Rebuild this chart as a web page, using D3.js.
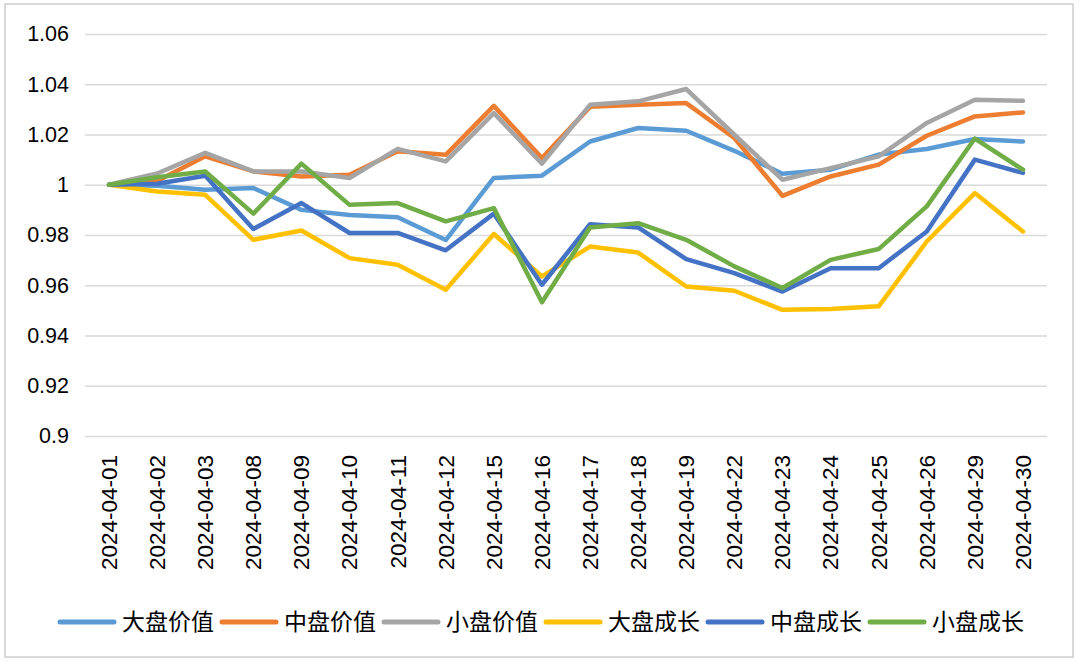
<!DOCTYPE html>
<html>
<head>
<meta charset="utf-8">
<script src="https://cdn.jsdelivr.net/npm/d3@7"></script>
<style>
  html, body { margin: 0; padding: 0; background: #fff; }
  svg { display: block; }
</style>
</head>
<body>
<div id="chart"></div>
<script>
const dates = ['2024-04-01', '2024-04-02', '2024-04-03', '2024-04-08', '2024-04-09', '2024-04-10', '2024-04-11',
  '2024-04-12', '2024-04-15', '2024-04-16', '2024-04-17', '2024-04-18', '2024-04-19', '2024-04-22',
  '2024-04-23', '2024-04-24', '2024-04-25', '2024-04-26', '2024-04-29', '2024-04-30'];

const largeValue  = [1.000, 0.9996, 0.998, 0.9987, 0.990, 0.988, 0.9871, 0.978, 1.0027, 1.0036, 1.0172, 1.0226, 1.0215, 1.0135, 1.0044, 1.006, 1.012, 1.0142, 1.0182, 1.0172];
const midValue    = [1.000, 1.0015, 1.0113, 1.0053, 1.0033, 1.004, 1.0133, 1.0119, 1.0314, 1.0106, 1.031, 1.0318, 1.0325, 1.0186, 0.9956, 1.0033, 1.008, 1.0195, 1.0272, 1.0288];
const smallValue  = [1.000, 1.0045, 1.0127, 1.0053, 1.0053, 1.0027, 1.0143, 1.0093, 1.0285, 1.0084, 1.0318, 1.0332, 1.0381, 1.0199, 1.002, 1.0066, 1.0113, 1.0246, 1.0338, 1.0334];
const largeGrowth = [1.000, 0.9973, 0.996, 0.9781, 0.9818, 0.9708, 0.9682, 0.9582, 0.9804, 0.9635, 0.9754, 0.973, 0.9595, 0.9578, 0.9502, 0.9505, 0.9516, 0.9774, 0.9967, 0.9814];
const midGrowth   = [1.000, 1.0004, 1.0036, 0.9824, 0.9927, 0.9808, 0.9808, 0.9739, 0.9885, 0.9602, 0.9843, 0.983, 0.9704, 0.9648, 0.9575, 0.9668, 0.9668, 0.9814, 1.010, 1.0047];
const smallGrowth = [1.000, 1.003, 1.0053, 0.9885, 1.0084, 0.992, 0.9927, 0.9854, 0.9907, 0.9532, 0.983, 0.9847, 0.9781, 0.9675, 0.9589, 0.9701, 0.9744, 0.9914, 1.0184, 1.006];

const yTicks = [0.9, 0.92, 0.94, 0.96, 0.98, 1, 1.02, 1.04, 1.06];

const series = [
  { name: '大盘价值', values: largeValue,  color: '#5B9BD5' },
  { name: '中盘价值', values: midValue,    color: '#ED7D31' },
  { name: '小盘价值', values: smallValue,  color: '#A5A5A5' },
  { name: '大盘成长', values: largeGrowth, color: '#FFC000' },
  { name: '中盘成长', values: midGrowth,   color: '#4472C4' },
  { name: '小盘成长', values: smallGrowth, color: '#70AD47' }
];

var W = 1080, H = 662,
    margin = {top: 34, right: 33, bottom: 226, left: 85},
    width = W - margin.left - margin.right,
    height = H - margin.top - margin.bottom;

var svg = d3.select('#chart').append('svg').attr('width', W).attr('height', H);

// outer frame
svg.append('rect')
    .attr('x', 5).attr('y', 4)
    .attr('width', 1068).attr('height', 653)
    .attr('fill', '#fff')
    .attr('stroke', '#d9d9d9')
    .attr('stroke-width', 2);

var x = d3.scaleBand().domain(dates).range([0, width]),
    y = d3.scaleLinear().domain([0.9, 1.06]).range([height, 0]);

var g = svg.append('g').attr('transform', 'translate(' + margin.left + ',' + margin.top + ')');

// gridlines + y labels
var yAxis = g.append('g')
    .attr('class', 'axis y')
    .call(d3.axisLeft(y).tickValues(yTicks).tickSize(-width).tickFormat(d3.format('')));
yAxis.select('.domain').remove();
yAxis.selectAll('line').attr('stroke', '#d9d9d9').attr('stroke-width', 1.5);
yAxis.selectAll('text')
    .attr('x', -16)
    .attr('fill', '#000')
    .style('font-family', '"Liberation Sans", Arial, Helvetica, sans-serif')
    .style('font-size', '21.5px');

// x labels
var xAxis = g.append('g')
    .attr('class', 'axis x')
    .attr('transform', 'translate(0,' + height + ')')
    .call(d3.axisBottom(x).tickSize(0));
xAxis.select('.domain').remove();
xAxis.selectAll('text')
    .attr('transform', 'rotate(-90)')
    .attr('x', -19)
    .attr('y', 0)
    .attr('dy', '0.35em')
    .attr('text-anchor', 'end')
    .attr('fill', '#000')
    .style('font-family', '"Liberation Sans", Arial, Helvetica, sans-serif')
    .style('font-size', '22.5px');

var line = d3.line()
    .x((d, i) => x(dates[i]) + x.bandwidth() / 2)
    .y(d => y(d));

g.selectAll('.series')
  .data(series)
  .enter().append('path')
    .attr('class', 'series')
    .attr('d', d => line(d.values))
    .attr('fill', 'none')
    .attr('stroke', d => d.color)
    .attr('stroke-width', 4.5)
    .attr('stroke-linejoin', 'round')
    .attr('stroke-linecap', 'round');

// legend
var legend = svg.append('g').attr('transform', 'translate(58,622)');
var item = legend.selectAll('.item')
  .data(series)
  .enter().append('g')
    .attr('class', 'item')
    .attr('transform', (d, i) => 'translate(' + (i * 162) + ',0)');
item.append('line')
    .attr('x1', 2).attr('x2', 56)
    .attr('y1', 0).attr('y2', 0)
    .attr('stroke', d => d.color)
    .attr('stroke-width', 5)
    .attr('stroke-linecap', 'round');
item.append('text')
    .attr('x', 64)
    .attr('dy', '0.35em')
    .attr('fill', '#000')
    .style('font-family', '"Noto Sans CJK SC", sans-serif')
    .style('font-size', '23px')
    .text(d => d.name);
</script>
</body>
</html>
